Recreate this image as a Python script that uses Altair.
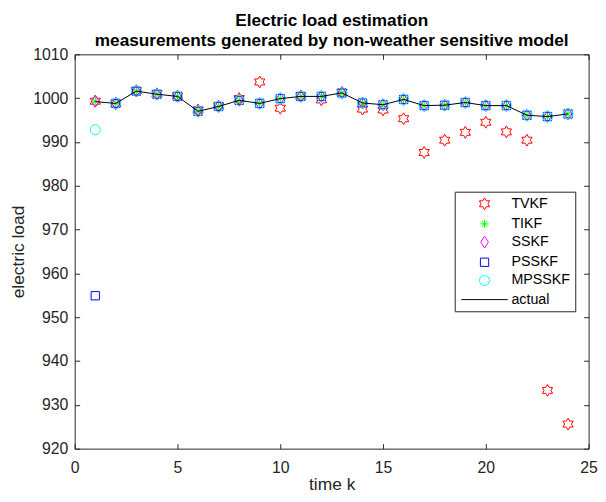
import altair as alt
import pandas as pd

# ---- data ----
k = list(range(1, 25))
actual = [999.2, 998.8, 1001.6, 1000.9, 1000.4, 997.0, 998.1, 999.5, 998.8, 999.9,
          1000.4, 1000.4, 1001.2, 998.9, 998.5, 999.7, 998.3, 998.4, 999.0, 998.3,
          998.3, 996.1, 995.8, 996.4]
tvkf = [999.3, 998.8, 1001.7, 1001.0, 1000.5, 997.3, 998.2, 999.9, 1003.7, 997.7,
        1000.5, 999.6, 1001.3, 997.5, 997.3, 995.3, 987.6, 990.4, 992.2, 994.5,
        992.3, 990.4, 933.3, 925.6]
tikf = [999.3, 998.8, 1001.6, 1000.9, 1000.4, 997.0, 998.1, 999.5, 998.8, 999.9,
        1000.4, 1000.4, 1001.2, 998.9, 998.5, 999.7, 998.3, 998.4, 999.0, 998.3,
        998.3, 996.1, 995.8, 996.4]
sskf = [999.3, 998.8, 1001.6, 1000.9, 1000.4, 997.0, 998.1, 999.5, 998.8, 999.9,
        1000.4, 1000.4, 1001.2, 998.9, 998.5, 999.7, 998.3, 998.4, 999.0, 998.3,
        998.3, 996.1, 995.8, 996.4]
psskf = [954.9, 998.8, 1001.6, 1000.9, 1000.4, 997.0, 998.1, 999.5, 998.8, 999.9,
         1000.4, 1000.4, 1001.2, 998.9, 998.5, 999.7, 998.3, 998.4, 999.0, 998.3,
         998.3, 996.1, 995.8, 996.4]
mpsskf = [992.8, 998.8, 1001.6, 1000.9, 1000.4, 997.0, 998.1, 999.5, 998.8, 999.9,
          1000.4, 1000.4, 1001.2, 998.9, 998.5, 999.7, 998.3, 998.4, 999.0, 998.3,
          998.3, 996.1, 995.8, 996.4]

series_names = ["TVKF", "TIKF", "SSKF", "PSSKF", "MPSSKF", "actual"]
series_colors = ["#FF0000", "#00FF00", "#FF00FF", "#0000FF", "#00FFFF", "#000000"]
series_shapes = [
    "M0,-1L0.289,-0.5L0.866,-0.5L0.577,0L0.866,0.5L0.289,0.5L0,1L-0.289,0.5L-0.866,0.5L-0.577,0L-0.866,-0.5L-0.289,-0.5Z",
    "M0,-0.7L0,0.7M-0.7,0L0.7,0M-0.5,-0.5L0.5,0.5M-0.5,0.5L0.5,-0.5",
    "M0,-1L0.65,0L0,1L-0.65,0Z",
    "M-0.7,-0.7L0.7,-0.7L0.7,0.7L-0.7,0.7Z",
    "M0.85,0A0.85,0.85,0,1,1,-0.85,0A0.85,0.85,0,1,1,0.85,0Z",
    "M-3.9,0L3.9,0",
]
x_ticks = [0, 5, 10, 15, 20, 25]
y_ticks = [920, 930, 940, 950, 960, 970, 980, 990, 1000, 1010]

rows = []
for name, vals in zip(series_names[:5], [tvkf, tikf, sskf, psskf, mpsskf]):
    for i, v in enumerate(vals):
        rows.append({"k": k[i], "series": name, "value": v, "ord": len(rows)})
pts = pd.DataFrame(rows)
act = pd.DataFrame({"k": k, "value": actual})

FONT = "Liberation Sans"
AX = "#262626"
W, H = 520, 399

xs = alt.Scale(domain=[0, 25], nice=False, zero=False)
ys = alt.Scale(domain=[920, 1010], nice=False, zero=False)

main_x = alt.Axis(orient="bottom", values=x_ticks, ticks=False, domain=False, grid=False,
                  labelFlush=False, labelFontSize=16, labelColor=AX, labelPadding=11,
                  title="time k", titleFontSize=17.6, titleFontWeight="normal",
                  titleColor=AX, titlePadding=0)
main_y = alt.Axis(orient="left", values=y_ticks, format="d", ticks=False, domain=False,
                  grid=False, labelFlush=False, labelFontSize=16, labelColor=AX,
                  labelPadding=7, title="electric load", titleFontSize=17.6,
                  titleFontWeight="normal", titleColor=AX, titlePadding=5, titleAngle=270)


def tick_axis(orient, values, off):
    return alt.Axis(orient=orient, values=values, labels=False, domain=False, grid=False,
                    ticks=True, tickSize=5, tickColor=AX, tickWidth=1, title=None, offset=off)


points = alt.Chart(pts).mark_point(filled=False, size=144, strokeWidth=1, opacity=1).encode(
    x=alt.X("k:Q", scale=xs, axis=main_x),
    y=alt.Y("value:Q", scale=ys, axis=main_y),
    color=alt.Color("series:N", scale=alt.Scale(domain=series_names, range=series_colors),
                    legend=alt.Legend(title=None, orient="none", legendX=384.5, legendY=139,
                                      fillColor="white", strokeColor=AX, padding=5,
                                      symbolOffset=18, labelOffset=20, rowPadding=3.4,
                                      labelFontSize=14.4, labelFont=FONT, labelColor="black",
                                      symbolSize=144, symbolStrokeWidth=1)),
    shape=alt.Shape("series:N", scale=alt.Scale(domain=series_names, range=series_shapes)),
    order=alt.Order("ord:Q"),
)

line = alt.Chart(act).mark_line(color="black", strokeWidth=1).encode(
    x=alt.X("k:Q", scale=xs, axis=tick_axis("top", x_ticks, -H)),
    y=alt.Y("value:Q", scale=ys, axis=tick_axis("right", y_ticks, -W)),
)

ghost = alt.Chart(act).mark_point(opacity=0).encode(
    x=alt.X("k:Q", scale=xs, axis=tick_axis("bottom", x_ticks, -H)),
    y=alt.Y("value:Q", scale=ys, axis=tick_axis("left", y_ticks, -W)),
)

chart = alt.layer(points, line, ghost).properties(
    width=W, height=H,
    title=alt.Title(text=["Electric load estimation",
                          "measurements generated by non-weather sensitive model"],
                    fontSize=17.4, font=FONT, fontWeight="bold", color="black",
                    anchor="middle", offset=-3, lineHeight=20.7),
    autosize=alt.AutoSizeParams(type="none"),
    padding={"left": 67.5, "top": 44, "right": 9.5, "bottom": 43},
).configure(font=FONT).configure_view(stroke=AX, strokeWidth=1)

chart.save("out.html", embed_options={"renderer": "svg", "actions": False})
